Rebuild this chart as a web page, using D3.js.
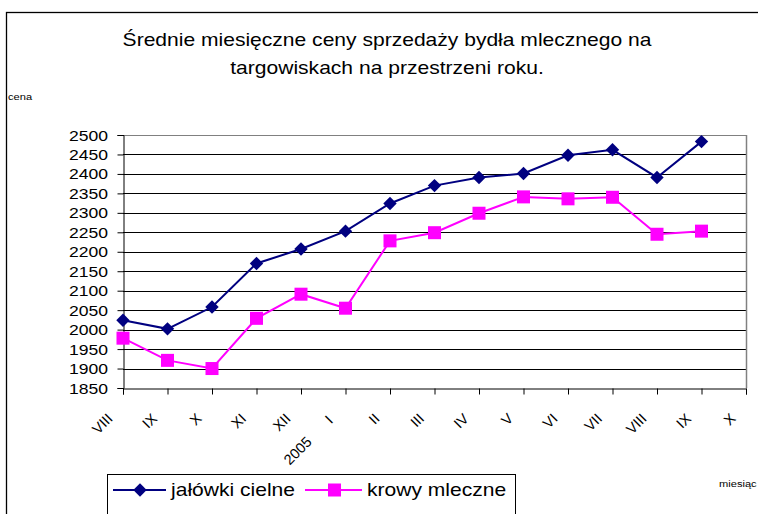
<!DOCTYPE html>
<html><head><meta charset="utf-8">
<script src="https://cdn.jsdelivr.net/npm/d3@7"></script>
<style>body{margin:0;background:#fff}svg{display:block}text{font-family:"Liberation Sans",Arial,sans-serif;fill:#000}</style>
</head><body>
<script>
const categories = ["VIII","IX","X","XI","XII","I","II","III","IV","V","VI","VII","VIII","IX","X"];
const jalowki = [2024,2002,2058,2170,2207,2253,2324,2370,2391,2401,2448,2462,2391,2483];
const krowy   = [1978,1921,1900,2029,2091,2055,2228,2249,2299,2341,2336,2340,2245,2253];
const yTicks = d3.range(1850, 2501, 50);
const seriesNames = ["jałówki cielne","krowy mleczne"];
const colors = ["#000080","#FF00FF"];
const titleLines = ["Średnie miesięczne ceny sprzedaży bydła mlecznego na","targowiskach na przestrzeni roku."];

const W=758,H=514, SX=1.17;
const svg=d3.select("body").append("svg").attr("width",W).attr("height",H);
svg.append("rect").attr("width",W).attr("height",H).attr("fill","#fff");
svg.append("rect").attr("x",6.5).attr("y",12.5).attr("width",900).attr("height",700).attr("fill","none").attr("stroke","#000").attr("stroke-width",1.3);

const L=123,R=746,T=135,B=388;
const x=d3.scalePoint().domain(d3.range(categories.length)).range([L,R]);
const y=d3.scaleLinear().domain([1850,2500]).range([B,T]);

function stext(g,tx,ty,txt,size,anchor){
  return g.append("text").attr("transform",`translate(${tx},${ty}) scale(${SX},1)`)
    .attr("font-size",size).attr("text-anchor",anchor||"start").text(txt);
}
// title
titleLines.forEach((t,i)=>stext(svg,387,46+i*28,t,18,"middle"));
stext(svg,8,100,"cena",9.5);
stext(svg,719,487,"miesiąc",9.5);

// grid
const g=svg.append("g");
g.selectAll("line.grid").data(yTicks.filter(v=>v>1850)).join("line")
  .attr("x1",L).attr("x2",R).attr("y1",d=>Math.round(y(d))+0.5).attr("y2",d=>Math.round(y(d))+0.5)
  .attr("stroke",d=>d===2500?"#808080":"#000").attr("stroke-width",1);
g.append("line").attr("x1",R+0.5).attr("x2",R+0.5).attr("y1",T).attr("y2",B).attr("stroke","#808080").attr("stroke-width",1.5);

// axes
const yAxis=svg.append("g").attr("transform",`translate(${L+0.5},0)`)
  .call(d3.axisLeft(y).tickValues(yTicks).tickSize(6).tickFormat(d3.format("d")));
yAxis.select(".domain").attr("stroke","#000");
yAxis.selectAll(".tick line").attr("stroke","#000");
yAxis.selectAll(".tick text").remove();
yTicks.forEach(v=>stext(svg,108,y(v)+5.5,String(v),15,"end"));

const xAxis=svg.append("g").attr("transform",`translate(0,${B+0.5})`)
  .call(d3.axisBottom(x).tickSize(6).tickFormat(""));
xAxis.select(".domain").attr("stroke","#000");
xAxis.selectAll(".tick line").attr("stroke","#000");
categories.forEach((c,i)=>{
  const t=svg.append("text").attr("transform",`translate(${x(i)-13},${B+28}) rotate(-45)`)
    .attr("font-size",14.5).attr("text-anchor","end").attr("dominant-baseline","central");
  if(c==="I"&&i===5){
    t.attr("transform",`translate(${x(i)-13},${B+28}) rotate(-45) translate(-3,0)`);
    t.append("tspan").text("2005");
    t.append("tspan").attr("dx",26).text("I");
  } else t.text(c);
});

// lines
const data=[jalowki,krowy];
const line=d3.line().x((d,i)=>x(i)).y(d=>y(d));
data.forEach((s,k)=>{
  svg.append("path").datum(s).attr("d",line).attr("fill","none").attr("stroke",colors[k]).attr("stroke-width",2);
});
const diamond=d3.symbol().type(d3.symbolSquare).size(90);
svg.selectAll("path.dia").data(jalowki).join("path")
  .attr("transform",(d,i)=>`translate(${x(i)},${y(d)}) rotate(45)`)
  .attr("d",diamond()).attr("fill",colors[0]);
svg.selectAll("rect.sq").data(krowy).join("rect")
  .attr("x",(d,i)=>x(i)-6.5).attr("y",d=>y(d)-6.5).attr("width",13).attr("height",13).attr("fill",colors[1]);

// legend
const lg=svg.append("g");
lg.append("rect").attr("x",107.5).attr("y",474.5).attr("width",408).attr("height",80).attr("fill","none").attr("stroke","#000").attr("stroke-width",1);
lg.append("line").attr("x1",113).attr("x2",166).attr("y1",490).attr("y2",490).attr("stroke",colors[0]).attr("stroke-width",2);
lg.append("path").attr("transform","translate(140,490) rotate(45)").attr("d",diamond()).attr("fill",colors[0]);
stext(lg,171,496,seriesNames[0],18);
lg.append("line").attr("x1",305).attr("x2",362).attr("y1",490).attr("y2",490).attr("stroke",colors[1]).attr("stroke-width",2);
lg.append("rect").attr("x",328).attr("y",483.5).attr("width",13).attr("height",13).attr("fill",colors[1]);
stext(lg,367,496,seriesNames[1],18);
</script>
</body></html>
